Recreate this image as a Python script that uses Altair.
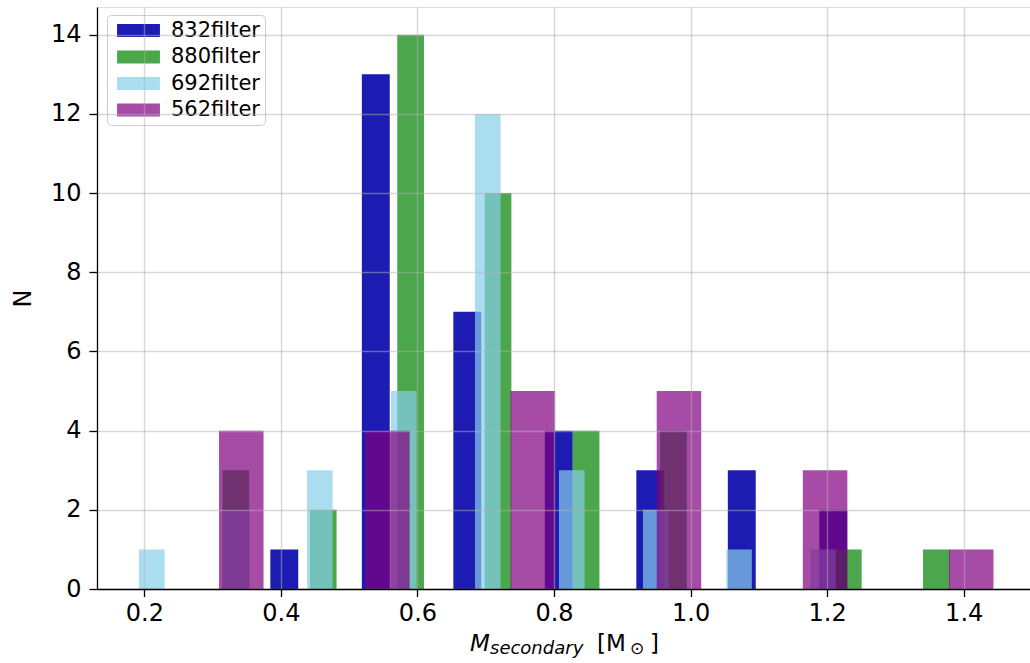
import altair as alt
import pandas as pd

# ---- data ----
series = ["832filter", "880filter", "692filter", "562filter"]
base_colors = ["#0000a8", "#008000", "#87ceeb", "#800080"]
alphas = [0.89, 0.7, 0.7, 0.7]

# bin centres and counts per filter
c832 = [0.405, 0.539, 0.673, 0.807, 0.941, 1.075, 1.209]
n832 = [1, 13, 7, 4, 3, 3, 2]
c880 = [0.334, 0.462, 0.590, 0.718, 0.847, 0.975, 1.103, 1.231, 1.360]
n880 = [3, 2, 14, 10, 4, 4, 0, 1, 1]
c692 = [0.211, 0.334, 0.457, 0.580, 0.703, 0.826, 0.949, 1.071, 1.194]
n692 = [1, 2, 3, 5, 12, 3, 2, 1, 1]
c562 = [0.342, 0.556, 0.769, 0.983, 1.197, 1.411]
n562 = [4, 4, 5, 5, 3, 1]
rwidth = 0.305  # relative bar width inside each bin

x_ticks = [0.2, 0.4, 0.6, 0.8, 1.0, 1.2, 1.4]
y_ticks = [0, 2, 4, 6, 8, 10, 12, 14]

rows = []
for name, cs, ns in zip(series, [c832, c880, c692, c562], [n832, n880, n692, n562]):
    step = (cs[-1] - cs[0]) / (len(cs) - 1)
    half = rwidth * step / 2
    for c, n in zip(cs, ns):
        if n > 0:
            rows.append({"series": name, "x0": c - half, "x1": c + half, "count": n})
df = pd.DataFrame(rows)

FONT = "DejaVu Sans"
W, H = 933, 582

leg = alt.Legend(
    title=None, orient="none", legendX=10, legendY=8,
    symbolType="M-3.3,-1H3.3V1H-3.3Z", symbolSize=169, symbolStrokeWidth=0,
    symbolOffset=16,
    labelFont=FONT, labelFontSize=21, labelColor="black", labelOffset=22,
    rowPadding=4.5, padding=5,
    strokeColor="#cccccc", cornerRadius=4,
    fillColor="rgba(255,255,255,0.8)",
)

grid_style = dict(grid=True, gridColor="#b0b0b0", gridOpacity=0.5, gridWidth=1.4)

bars = alt.Chart(df).mark_bar(strokeWidth=0).encode(
    x=alt.X("x0:Q", scale=alt.Scale(domain=[0.1307, 1.4971], nice=False, zero=False, padding=0),
            axis=alt.Axis(values=x_ticks, format=".1f", title=None, zindex=1,
                          labelFont=FONT, labelFontSize=24, labelColor="black", labelPadding=5,
                          tickSize=7.5, tickWidth=1.3, tickColor="black",
                          domainColor="black", domainWidth=1.3, **grid_style)),
    x2="x1:Q",
    y=alt.Y("count:Q", scale=alt.Scale(domain=[0, 14.7], nice=False, padding=0),
            axis=alt.Axis(values=y_ticks, format="d", title="N", zindex=1,
                          labelFont=FONT, labelFontSize=24, labelColor="black", labelPadding=8,
                          tickSize=8, tickWidth=1.3, tickColor="black",
                          domainColor="black", domainWidth=1.3, **grid_style,
                          titleFont=FONT, titleFontSize=24, titleFontWeight="normal",
                          titleColor="black", titleX=-67, titleY=291,
                          titleBaseline="alphabetic", titleAlign="center")),
    y2=alt.datum(0),
    color=alt.Color("series:N", scale=alt.Scale(domain=series, range=base_colors), legend=leg),
    opacity=alt.Opacity("series:N", scale=alt.Scale(type="ordinal", domain=series, range=alphas),
                        legend=leg),
)

# x-axis title: M_secondary [M_sun]
title_parts = [
    ("M", 373, 644, 23, "italic"),
    ("secondary", 393, 647, 18, "italic"),
    ("[M", 500, 644, 23, "normal"),
    ("\u2299", 533, 647, 17, "normal"),
    ("]", 553, 644, 23, "normal"),
]
texts = []
for t, px, py, fs, st in title_parts:
    texts.append(
        alt.Chart(pd.DataFrame({"t": [t]})).mark_text(
            align="left", baseline="alphabetic", font=FONT, fontSize=fs, fontStyle=st, color="black"
        ).encode(text="t:N", x=alt.value(px), y=alt.value(py))
    )

chart = alt.layer(bars, *texts).properties(
    width=W, height=H,
    autosize=alt.AutoSizeParams(type="none"),
    padding={"left": 97, "top": 7, "right": 0, "bottom": 74},
).configure_view(stroke="black", strokeWidth=1.3).configure_legend(
    strokeWidth=1.5
).configure(background="white")

chart.save("out.html", embed_options={"renderer": "svg", "actions": False})
